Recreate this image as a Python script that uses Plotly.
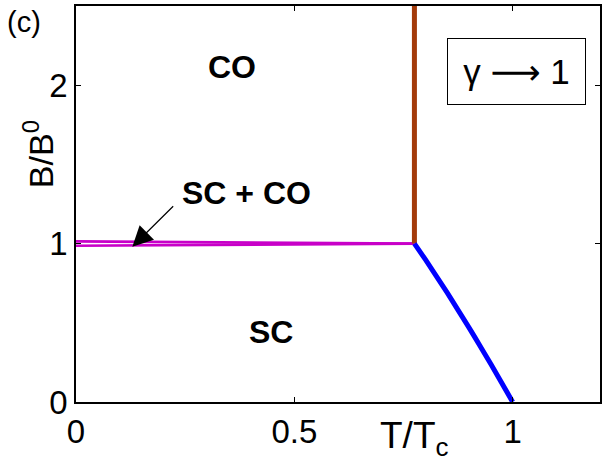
import plotly.graph_objects as go

# Phase boundaries in the (T/Tc, B/B0) plane
T_co_edge = [0.775, 0.775]
B_co_edge = [1.0, 2.5]

T_mix = [0.0, 0.775]
B_mix_upper = [1.0135, 1.0]
B_mix_lower = [0.9865, 1.0]

T_sc_edge = [0.775, 0.80, 0.85, 0.875, 0.90, 0.925, 0.95, 1.0]
B_sc_edge = [1.0, 0.90, 0.69, 0.58, 0.47, 0.355, 0.24, 0.0]

x_ticks = [0, 0.5, 1]
x_tick_text = ["0", "0.5", "1"]
y_ticks = [0, 1, 2]
y_tick_text = ["0", "1", "2"]

FONT = "Liberation Sans, Arial, Helvetica, sans-serif"
W, H = 604, 469
L, R, T, B = 76, 2, 6, 67

fig = go.Figure()
fig.add_trace(go.Scatter(x=T_mix, y=B_mix_upper, mode="lines",
                         line=dict(color="#C800C8", width=2.7), hoverinfo="skip"))
fig.add_trace(go.Scatter(x=T_mix, y=B_mix_lower, mode="lines",
                         line=dict(color="#C800C8", width=2.7), hoverinfo="skip"))
fig.add_trace(go.Scatter(x=T_co_edge, y=B_co_edge, mode="lines",
                         line=dict(color="#A33A0A", width=5), hoverinfo="skip"))
fig.add_trace(go.Scatter(x=T_sc_edge, y=B_sc_edge, mode="lines",
                         line=dict(color="#0000FF", width=5, shape="spline", smoothing=0.6),
                         hoverinfo="skip"))

pw = W - L - R
ph = H - T - B


def px(x):
    return (x - L) / pw


def py(y):
    return (H - B - y) / ph


def label(x, y, text, size, **kw):
    d = dict(x=x, y=y, text=text, showarrow=False, xanchor="center", yanchor="middle",
             font=dict(size=size, family=FONT, color="black"))
    d.update(kw)
    return d


annotations = [
    label(0.358, 2.115, "<b>CO</b>", 32, xref="x", yref="y"),
    label(0.391, 1.32, "<b>SC + CO</b>", 32, xref="x", yref="y"),
    label(0.447, 0.444, "<b>SC</b>", 32, xref="x", yref="y"),
    dict(x=0.129, y=0.98, xref="x", yref="y", ax=0.226, ay=1.245, axref="x", ayref="y",
         text="", showarrow=True, arrowhead=2, arrowsize=3.4, arrowwidth=1.2,
         arrowcolor="black"),
    label(px(518.5), py(71.5),
          "\u03b3 <span style=\"font-family:DejaVu Sans\">\u27f6</span> 1", 35,
          xref="paper", yref="paper", bordercolor="black", borderwidth=1, borderpad=0,
          width=137, height=65, bgcolor="white"),
    label(px(24), py(22), "(c)", 29, xref="paper", yref="paper"),
    label(px(38), py(154), "B/B<sup>0</sup>", 34, xref="paper", yref="paper",
          textangle=-90),
    label(px(415), py(438), "T/T<sub>c</sub>", 37, xref="paper", yref="paper"),
]

axis_common = dict(showline=True, linecolor="black", linewidth=1.5, mirror="ticks",
                   ticks="inside", ticklen=5, tickwidth=1, tickcolor="black",
                   showgrid=False, zeroline=False,
                   tickfont=dict(size=33, family=FONT, color="black"))

fig.update_layout(
    width=W, height=H,
    margin=dict(l=L, r=R, t=T, b=B),
    paper_bgcolor="white", plot_bgcolor="white",
    showlegend=False,
    xaxis=dict(range=[0, 1.2], tickvals=x_ticks, ticktext=x_tick_text, **axis_common),
    yaxis=dict(range=[0, 2.5], tickvals=y_ticks, ticktext=y_tick_text, **axis_common),
    annotations=annotations,
)

fig.write_html("out.html")
